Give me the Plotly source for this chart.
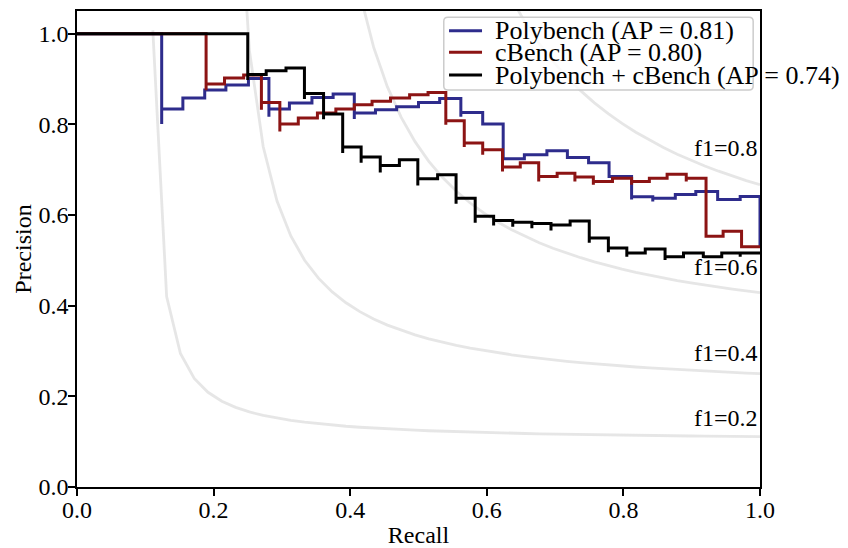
import numpy as np
import plotly.graph_objects as go

# ---------------- data ----------------
poly_recall = [0.0, 0.124, 0.124, 0.155, 0.187, 0.218, 0.251, 0.281, 0.281, 0.311,
               0.344, 0.375, 0.406, 0.406, 0.437, 0.468, 0.500, 0.531, 0.562, 0.562,
               0.594, 0.624, 0.655, 0.688, 0.718, 0.749, 0.779, 0.812, 0.812, 0.843,
               0.843, 0.876, 0.906, 0.938, 0.971, 1.0]
poly_precision = [1.0, 0.801, 0.834, 0.858, 0.876, 0.887, 0.901, 0.817, 0.834, 0.847,
                  0.859, 0.867, 0.812, 0.825, 0.832, 0.839, 0.848, 0.857, 0.817, 0.826,
                  0.801, 0.724, 0.733, 0.742, 0.727, 0.715, 0.685, 0.634, 0.640, 0.630,
                  0.637, 0.645, 0.652, 0.634, 0.641, 0.530]

cbench_recall = [0.0, 0.189, 0.189, 0.216, 0.244, 0.270, 0.270, 0.297, 0.297, 0.324,
                 0.352, 0.379, 0.406, 0.432, 0.459, 0.487, 0.514, 0.540, 0.540, 0.567,
                 0.567, 0.594, 0.594, 0.623, 0.623, 0.649, 0.676, 0.676, 0.703, 0.729,
                 0.729, 0.756, 0.756, 0.784, 0.812, 0.812, 0.838, 0.864, 0.892, 0.892,
                 0.921, 0.946, 0.973, 1.0]
cbench_precision = [1.0, 0.875, 0.889, 0.902, 0.909, 0.832, 0.848, 0.784, 0.801, 0.814,
                    0.825, 0.834, 0.843, 0.851, 0.858, 0.865, 0.870, 0.799, 0.808, 0.750,
                    0.759, 0.733, 0.744, 0.696, 0.706, 0.715, 0.674, 0.685, 0.692, 0.674,
                    0.684, 0.667, 0.674, 0.681, 0.667, 0.674, 0.681, 0.690, 0.674, 0.681,
                    0.553, 0.564, 0.530, 0.530]

both_recall = [0.0, 0.250, 0.250, 0.277, 0.306, 0.333, 0.333, 0.361, 0.361, 0.389,
               0.389, 0.416, 0.416, 0.444, 0.444, 0.472, 0.499, 0.499, 0.528, 0.555,
               0.555, 0.583, 0.583, 0.610, 0.610, 0.638, 0.638, 0.666, 0.666, 0.694,
               0.694, 0.722, 0.750, 0.750, 0.778, 0.778, 0.805, 0.805, 0.832, 0.861,
               0.861, 0.888, 0.917, 0.917, 0.944, 0.971, 0.971, 1.0]
both_precision = [1.0, 0.898, 0.910, 0.918, 0.924, 0.856, 0.868, 0.811, 0.823, 0.737,
                  0.750, 0.715, 0.728, 0.694, 0.709, 0.722, 0.665, 0.680, 0.689, 0.625,
                  0.637, 0.583, 0.597, 0.577, 0.588, 0.574, 0.584, 0.571, 0.581, 0.566,
                  0.578, 0.587, 0.539, 0.549, 0.518, 0.527, 0.508, 0.516, 0.525, 0.501,
                  0.508, 0.516, 0.505, 0.508, 0.516, 0.508, 0.516, 0.516]

series_names = ["Polybench (AP = 0.81)", "cBench (AP = 0.80)",
                "Polybench + cBench (AP = 0.74)"]
series_colors = ["#2e2c8c", "#8c1414", "#000000"]

f_scores = [0.2, 0.4, 0.6, 0.8]
tick_vals = [0.0, 0.2, 0.4, 0.6, 0.8, 1.0]
tick_text = ["0.0", "0.2", "0.4", "0.6", "0.8", "1.0"]

FONT = "Liberation Serif"
FS = 24
LEG_FS = 26

fig = go.Figure()

# iso-F1 guide curves
for f in f_scores:
    x = np.linspace(0.01, 1, 50)
    y = f * x / (2 * x - f)
    keep = y >= 0
    fig.add_trace(go.Scatter(x=x[keep], y=y[keep], mode="lines",
                             line=dict(color="rgba(128,128,128,0.2)", width=2.8),
                             hoverinfo="skip", showlegend=False))
    fig.add_annotation(x=0.9, y=float(y[45]) + 0.02, text=f"f1={f:g}",
                       xanchor="left", yanchor="bottom", yshift=-6, showarrow=False,
                       font=dict(family=FONT, size=FS, color="black"))

curves = [(poly_recall, poly_precision), (cbench_recall, cbench_precision),
          (both_recall, both_precision)]
for (r, p), name, col in zip(curves, series_names, series_colors):
    fig.add_trace(go.Scatter(x=r, y=p, mode="lines", name=name,
                             line=dict(color=col, width=3, shape="hv"),
                             showlegend=False))

# legend drawn manually (matches reference box / overflow), rounded frame
x0, x1, y0, y1 = 0.537, 0.990, 0.834, 0.987
rx, ry = 0.006, 0.0085
frame = (f"M {x0+rx},{y0} L {x1-rx},{y0} Q {x1},{y0} {x1},{y0+ry} "
         f"L {x1},{y1-ry} Q {x1},{y1} {x1-rx},{y1} L {x0+rx},{y1} "
         f"Q {x0},{y1} {x0},{y1-ry} L {x0},{y0+ry} Q {x0},{y0} {x0+rx},{y0} Z")
fig.add_shape(type="path", xref="paper", yref="paper", path=frame,
              line=dict(color="rgb(204,204,204)", width=1.5),
              fillcolor="rgba(255,255,255,0.8)", layer="above")
row_y = [0.9586, 0.9132, 0.8655]
for name, col, yy in zip(series_names, series_colors, row_y):
    fig.add_shape(type="line", xref="paper", yref="paper",
                  x0=0.5447, x1=0.5930, y0=yy, y1=yy,
                  line=dict(color=col, width=3), layer="above")
    fig.add_annotation(xref="paper", yref="paper", x=0.6086, y=yy, text=name,
                       xanchor="left", yanchor="middle", showarrow=False,
                       font=dict(family=FONT, size=LEG_FS, color="black"))

axis_common = dict(showline=True, linecolor="black", linewidth=1.6, mirror=True,
                   ticks="outside", ticklen=7, tickwidth=1.6, tickcolor="black",
                   showgrid=False, zeroline=False,
                   tickvals=tick_vals, ticktext=tick_text,
                   tickfont=dict(family=FONT, size=FS, color="black"))

# page body has an 8px margin, so the figure is 8px smaller on each side
fig.update_layout(
    width=840, height=540,
    margin=dict(l=69, r=88, t=3, b=61, autoexpand=False),
    paper_bgcolor="white", plot_bgcolor="white",
    font=dict(family=FONT, size=FS, color="black"),
    xaxis=dict(range=[0, 1], ticklabelstandoff=-7,
               title=dict(text="Recall", standoff=8,
                          font=dict(family=FONT, size=FS)),
               **axis_common),
    yaxis=dict(range=[0, 1.05], ticklabelstandoff=-5,
               title=dict(text="Precision", standoff=0,
                          font=dict(family=FONT, size=FS)),
               **axis_common),
)

fig.write_html("out.html")
